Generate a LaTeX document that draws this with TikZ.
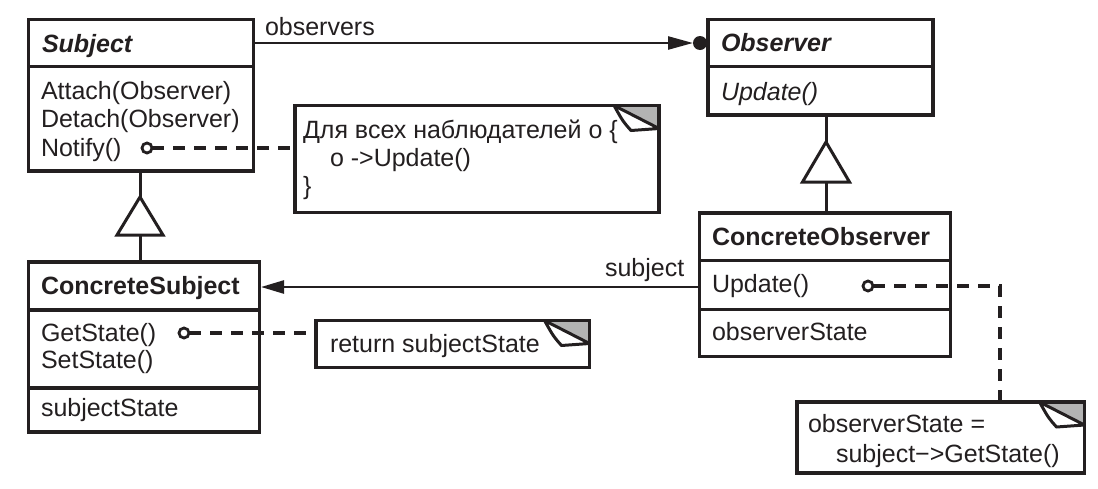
\documentclass[tikz,border=0pt]{standalone}
\usepackage{fontspec}
\setmainfont{Liberation Sans}
\usetikzlibrary{arrows.meta,calc}
\definecolor{ink}{HTML}{231F20}
\definecolor{foldgray}{HTML}{B3B3B3}
\newcommand\earfold[1]{%
  \fill[foldgray] ($(#1.north east)+(-45,0)$) -- (#1.north east) -- ($(#1.north east)+(0,23)$) -- cycle;
  \filldraw[fill=white, draw=ink, line width=3pt, line join=round]
    ($(#1.north east)+(-45,0)$) -- ($(#1.north east)+(0,23)$) -- ($(#1.north east)+(-28,25)$)
    .. controls ($(#1.north east)+(-36,16)$) .. cycle;
  \draw[ink, line width=3.5pt, line cap=rect] (#1.north west) -- (#1.north east) -- (#1.south east);
}
\begin{document}
\begin{tikzpicture}[x=1pt,y=-1pt,
  box/.style={draw=ink, line width=3.5pt, rectangle, inner sep=0pt, outer sep=0pt, anchor=north west},
  txt/.style={anchor=base west, inner sep=0pt, outer sep=0pt, text=ink, font=\fontsize{25}{28}\selectfont},
  link/.style={draw=ink, line width=2.5pt},
  dashlink/.style={draw=ink, line width=3.3pt, dash pattern=on 12pt off 9pt},
  knob/.style={draw=ink, fill=white, line width=2.8pt},
  gentri/.style={draw=ink, fill=white, line width=3pt, line join=miter}
]
\useasboundingbox (0,0) rectangle (1098,488);

% boxes
\node[box, minimum width=225pt, minimum height=151.5pt] (subject) at (28.5,19.5) {};
\draw[ink, line width=3.5pt] (28.5,66.5) -- (253.5,66.5);
\node[box, minimum width=225pt, minimum height=95.5pt] (observer) at (708,19.5) {};
\draw[ink, line width=3.5pt] (708,66.5) -- (933,66.5);
\node[box, minimum width=231pt, minimum height=170pt] (csubject) at (28.5,262) {};
\draw[ink, line width=3.5pt] (28.5,310) -- (259.5,310);
\draw[ink, line width=3.5pt] (28.5,388) -- (259.5,388);
\node[box, minimum width=251pt, minimum height=143.5pt] (cobserver) at (699.5,213) {};
\draw[ink, line width=3.5pt] (699.5,260.5) -- (950.5,260.5);
\draw[ink, line width=3.5pt] (699.5,309.5) -- (950.5,309.5);

% notes
\node[box, minimum width=364pt, minimum height=107pt] (note1) at (295,105.5) {};
\earfold{note1}
\node[box, minimum width=273.5pt, minimum height=47pt] (note2) at (316,320.5) {};
\earfold{note2}
\node[box, minimum width=287.5pt, minimum height=71pt] (note3) at (797,402) {};
\earfold{note3}

% texts
\node[txt] (t1) at (42,52) {\textbf{\textit{Subject}}};
\node[txt] (t2) at (41,99.5) {Attach(Observer)};
\node[txt] (t3) at (41,127.5) {Detach(Observer)};
\node[txt] (t4) at (41,156) {Notify()};
\node[txt] (t5) at (721,51.5) {\textbf{\textit{Observer}}};
\node[txt] (t6) at (721,100.5) {\textit{Update()}};
\node[txt] (t7) at (41,294) {\textbf{ConcreteSubject}};
\node[txt] (t8) at (41,341) {GetState()};
\node[txt] (t9) at (41,368) {SetState()};
\node[txt] (t10) at (41,416) {subjectState};
\node[txt] (t11) at (712,245) {\textbf{ConcreteObserver}};
\node[txt] (t12) at (712,292) {Update()};
\node[txt] (t13) at (712,340) {observerState};
\node[txt] (t14) at (303,138) {Для всех наблюдателей o \{};
\node[txt] (t15) at (330,166) {o ->Update()};
\node[txt] (t16) at (303,194) {\}};
\node[txt] (t17) at (330,352) {return subjectState};
\node[txt] (t18) at (808,432) {observerState =};
\node[txt] (t19) at (836,462) {subject−>GetState()};
\node[txt] (lobs) at (265,35) {observers};
\node[txt] (lsub) at (605,276) {subject};

% association: observers
\coordinate (a1) at ($(subject.north east)+(0,23.5)$);
\coordinate (a2) at ($(observer.north west)+(-15,23.5)$);
\coordinate (dot) at ($(observer.north west)+(-8,23.5)$);
\draw[link, -{Triangle[length=25pt,width=13pt]}] (a1) -- (a2);
\fill[ink] (dot) circle (7pt);

% association: subject
\coordinate (b1) at (cobserver.west |- 0,287);
\coordinate (b2) at ($(csubject.east |- 0,287)+(1.5,0)$);
\draw[link, -{Triangle[length=23pt,width=13pt]}] (b1) -- (b2);

% generalization Subject <- ConcreteSubject
\coordinate (g1) at (140,197);
\draw[ink, line width=3pt] (subject.south -| g1) -- (g1);
\draw[ink, line width=3pt] ($(g1)+(0,38)$) -- (csubject.north -| g1);
\draw[gentri] (g1) -- ++(-23,38) -- ++(46,0) -- cycle;

% generalization Observer <- ConcreteObserver
\coordinate (g2) at (826,142);
\draw[ink, line width=3pt] (observer.south -| g2) -- (g2);
\draw[ink, line width=3pt] ($(g2)+(0,40)$) -- (cobserver.north -| g2);
\draw[gentri] (g2) -- ++(-23.5,40) -- ++(47,0) -- cycle;

% note links
\coordinate (k1) at (147,148);
\draw[dashlink] ($(k1)+(5,0)$) -- (note1.west |- k1);
\draw[knob] (k1) circle (5pt);
\coordinate (k2) at (184,333);
\draw[dashlink] ($(k2)+(5,0)$) -- (note2.west |- k2);
\draw[knob] (k2) circle (5pt);
\coordinate (k3) at (868,286);
\coordinate (bend) at (1000,286);
\draw[dashlink] ($(k3)+(5,0)$) -- (bend) -- (bend |- note3.north);
\draw[knob] (k3) circle (5pt);
\end{tikzpicture}
\end{document}
